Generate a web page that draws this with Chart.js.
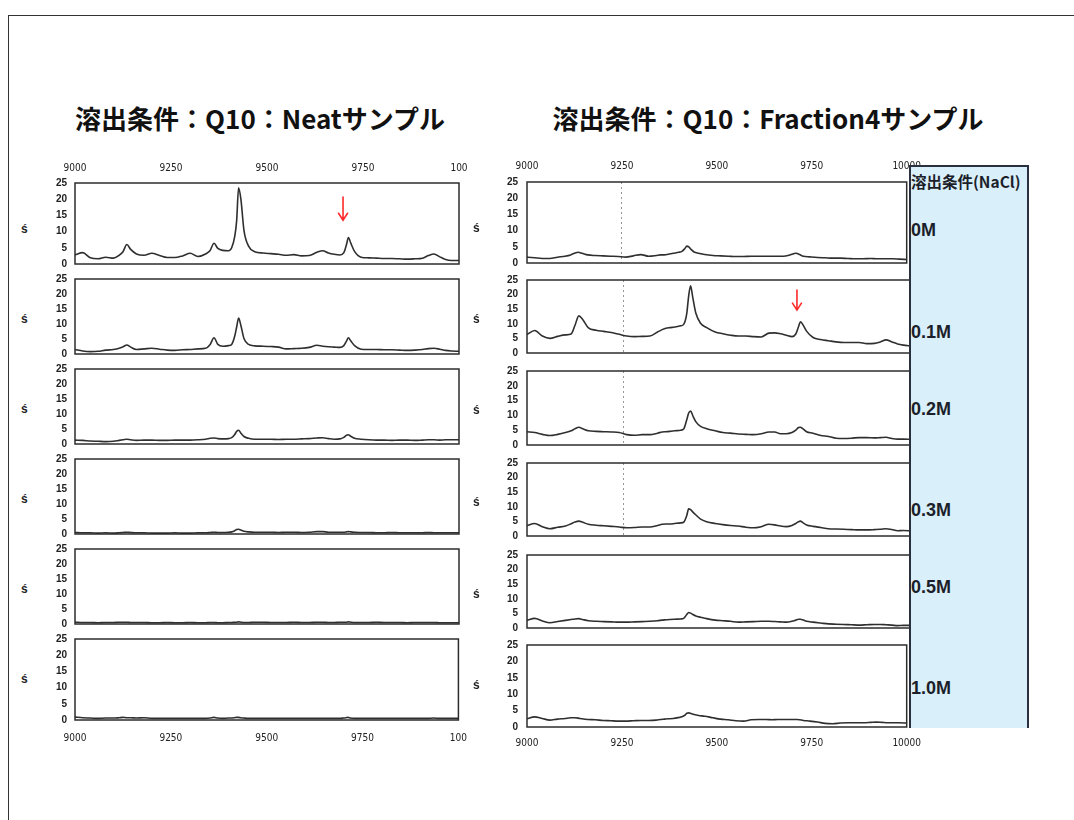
<!DOCTYPE html>
<html lang="ja">
<head>
<meta charset="utf-8">
<title>溶出条件 Q10</title>
<script src="https://cdn.jsdelivr.net/npm/chart.js@4.4.1/dist/chart.umd.min.js"></script>
<style>
  html, body { margin: 0; padding: 0; background: #fff; }
  #page { position: relative; width: 1074px; height: 820px; overflow: hidden; background: #fff;
          font-family: "Liberation Sans", Arial, sans-serif; }
  .frame { position: absolute; left: 8px; top: 15px; width: 1080px; height: 820px;
           border-left: 1.5px solid #333; border-top: 1.5px solid #333; }
  .title { position: absolute; top: 103px; height: 30px; line-height: 30px; white-space: nowrap;
           font-family: "Noto Sans CJK JP", sans-serif; font-weight: 700; font-size: 26px; color: #111;
           transform: translateX(-50%); }
  canvas { position: absolute; z-index: 2; }
  .axisname { position: absolute; font: bold 12px "Liberation Sans", Arial, sans-serif; color: #222;
              line-height: 12px; z-index: 3; }
  #saltBox { position: absolute; left: 909px; top: 165px; width: 116px; height: 561px; z-index: 5;
             background: #d9eff9; border-left: 2px solid #2b3040; border-top: 2px solid #2b3040;
             border-right: 2px solid #2b3040; }
  .saltHead { position: absolute; left: 911px; top: 171px; z-index: 6; white-space: nowrap;
              font-family: "Noto Sans CJK JP", sans-serif; font-weight: 700; font-size: 15.5px; color: #1c1f2a;
              line-height: 20px; letter-spacing: 0px; }
  .salt { position: absolute; left: 911px; z-index: 6; font: bold 18px "Liberation Sans", Arial, sans-serif;
          color: #1c1f2a; line-height: 20px; }
</style>
</head>
<body>
<div id="page">
  <div class="frame"></div>
  <div class="title" style="left:260px">溶出条件：Q10：Neatサンプル</div>
  <div class="title" style="left:768px">溶出条件：Q10：Fraction4サンプル</div>
</div>
<script>
// ---- spectra: m/z grid shared by every trace ----
const masses = [9000,9020,9040,9060,9080,9100,9115,9125,9135,9145,9160,9180,9200,9220,9240,9260,9280,9300,9320,9340,
  9352,9362,9372,9385,9400,9408,9416,9421,9426,9432,9440,9452,9468,9490,9510,9530,9550,9570,9590,9610,9630,
  9645,9660,9675,9690,9700,9707,9712,9718,9728,9745,9765,9785,9805,9825,9845,9865,9885,9905,9920,9935,9950,9965,9980,10000];

// Neat sample, intensity per NaCl elution step
const neat_0M   = [2.8,3.5,1.9,1.6,2.1,1.8,2.7,3.8,6.0,4.5,3.1,2.7,3.3,2.6,2.0,2.0,2.5,3.3,2.3,3.1,4.2,6.4,4.8,4.2,4.1,5.0,8.5,13.4,23.5,20.0,10.4,5.5,3.8,3.4,3.2,3.0,2.7,2.9,2.5,2.6,3.6,4.1,3.4,3.0,2.8,3.5,6.0,8.2,6.5,3.9,2.1,1.9,1.8,1.7,1.7,1.6,1.5,1.6,1.8,2.6,3.1,2.2,1.4,1.1,1.1];
const neat_0_1M = [1.5,1.0,0.8,0.9,1.3,1.5,1.9,2.4,3.0,2.3,1.5,1.7,1.9,1.6,1.3,1.2,1.4,1.5,1.7,1.9,3.2,5.4,3.2,2.6,2.8,3.2,6.0,9.0,12.0,9.5,5.2,3.2,2.7,2.6,2.5,2.3,1.7,1.8,1.9,2.2,2.9,2.6,2.4,2.3,2.2,2.8,4.3,5.4,4.4,2.8,1.6,1.5,1.5,1.4,1.4,1.3,1.2,1.3,1.5,1.8,1.9,1.6,1.2,1.0,0.9];
const neat_0_2M = [1.3,1.2,1.0,0.9,0.8,0.9,1.2,1.4,1.6,1.4,1.2,1.3,1.3,1.2,1.2,1.3,1.3,1.3,1.4,1.6,1.9,2.0,1.8,1.7,1.8,2.1,3.2,4.2,4.6,3.6,2.5,1.9,1.6,1.6,1.6,1.5,1.6,1.6,1.7,1.8,2.0,2.1,1.8,1.6,1.7,2.2,2.9,3.1,2.6,1.9,1.6,1.4,1.3,1.3,1.2,1.3,1.3,1.2,1.3,1.4,1.4,1.3,1.4,1.4,1.4];
const neat_0_3M = [0.5,0.4,0.4,0.3,0.4,0.3,0.4,0.5,0.6,0.5,0.4,0.4,0.3,0.3,0.3,0.4,0.3,0.3,0.4,0.4,0.5,0.6,0.5,0.5,0.6,0.7,1.1,1.5,1.6,1.3,0.9,0.7,0.6,0.6,0.6,0.5,0.6,0.6,0.5,0.6,0.8,0.8,0.6,0.6,0.6,0.6,0.7,0.8,0.7,0.6,0.5,0.5,0.4,0.4,0.5,0.4,0.4,0.4,0.4,0.5,0.4,0.4,0.4,0.4,0.4];
const neat_0_5M = [0.6,0.5,0.5,0.4,0.5,0.5,0.6,0.6,0.6,0.5,0.5,0.5,0.4,0.4,0.5,0.4,0.4,0.5,0.4,0.4,0.5,0.5,0.4,0.4,0.5,0.5,0.6,0.6,0.7,0.6,0.5,0.5,0.6,0.6,0.5,0.5,0.5,0.6,0.5,0.5,0.6,0.6,0.5,0.5,0.6,0.6,0.6,0.7,0.6,0.5,0.5,0.5,0.6,0.5,0.5,0.5,0.4,0.5,0.5,0.5,0.5,0.4,0.4,0.4,0.4];
const neat_1_0M = [0.9,0.7,0.6,0.5,0.6,0.6,0.7,0.8,0.7,0.7,0.6,0.7,0.5,0.5,0.5,0.5,0.5,0.5,0.5,0.5,0.6,0.8,0.6,0.5,0.6,0.6,0.7,0.8,0.8,0.7,0.6,0.5,0.5,0.5,0.5,0.5,0.5,0.5,0.5,0.5,0.5,0.5,0.5,0.5,0.5,0.6,0.7,0.8,0.6,0.5,0.5,0.5,0.5,0.5,0.5,0.5,0.5,0.5,0.5,0.5,0.6,0.5,0.5,0.5,0.5];

// Fraction4 sample, intensity per NaCl elution step
const frac4_0M   = [1.8,1.6,1.4,1.4,1.8,2.1,2.5,3.0,3.3,3.0,2.5,2.3,2.2,2.1,2.0,1.8,2.2,2.6,2.1,2.3,2.5,2.5,2.7,3.0,3.3,3.6,4.5,5.2,5.0,4.2,3.4,3.0,2.6,2.3,2.2,2.1,2.0,2.0,2.1,2.1,2.1,2.1,2.1,2.1,2.4,2.8,3.0,2.9,2.6,2.1,1.9,1.7,1.6,1.5,1.5,1.4,1.3,1.3,1.4,1.3,1.3,1.3,1.3,1.2,1.1];
const frac4_0_1M = [6.3,7.7,5.8,5.0,5.7,6.2,6.5,9.5,12.7,11.5,8.6,7.8,7.4,7.0,6.4,5.8,5.6,5.7,5.8,7.2,8.0,8.5,8.7,8.9,9.3,9.8,13.5,19.5,23.0,18.8,13.5,10.2,8.7,7.2,6.6,6.1,5.8,5.8,5.6,5.5,6.8,6.9,6.6,6.1,5.6,6.5,9.0,10.7,9.8,7.5,5.3,4.6,4.2,3.8,3.6,3.6,3.6,3.2,3.3,3.8,4.5,3.8,3.1,2.7,2.4];
const frac4_0_2M = [4.5,4.2,3.6,3.2,3.6,4.2,4.8,5.5,6.0,5.5,4.8,4.6,4.5,4.4,4.2,3.5,3.3,3.5,3.5,4.0,4.4,4.5,4.6,4.8,5.0,5.4,8.5,10.8,11.5,9.8,7.8,6.3,5.5,4.8,4.2,4.0,3.7,3.6,3.5,3.8,4.4,4.4,3.8,3.8,4.2,5.0,5.9,6.0,5.5,4.5,4.0,3.2,2.9,2.3,2.2,2.3,2.5,2.5,2.4,2.5,2.6,2.2,2.0,2.0,1.9];
const frac4_0_3M = [3.5,4.3,3.2,2.5,3.0,3.4,4.2,4.8,5.1,4.7,4.0,3.7,3.5,3.3,3.1,2.8,2.9,3.1,3.1,3.6,4.0,4.1,4.1,4.3,4.5,4.7,7.0,9.3,9.0,8.2,7.2,5.8,4.9,4.3,3.9,3.6,3.4,3.0,2.8,3.2,4.0,3.8,3.4,3.2,3.6,4.3,4.9,5.1,4.6,3.8,3.3,2.9,2.5,2.4,2.3,2.2,2.1,2.1,2.2,2.3,2.5,2.2,1.8,1.9,1.7];
const frac4_0_5M = [2.6,3.3,2.4,1.8,2.2,2.6,2.9,3.1,3.2,2.9,2.5,2.3,2.2,2.1,2.0,2.0,2.1,2.2,2.3,2.5,2.7,2.8,2.9,3.0,3.1,3.3,4.6,5.3,5.1,4.6,4.1,3.7,3.2,2.7,2.5,2.3,2.0,2.1,2.2,2.3,2.3,2.2,2.1,2.0,2.3,2.7,3.0,3.0,2.8,2.3,2.0,1.7,1.4,1.3,1.2,1.1,1.0,1.1,1.2,1.2,1.1,1.0,0.8,0.9,0.9];
const frac4_1_0M = [2.5,3.1,2.6,2.1,2.4,2.6,2.8,2.8,2.7,2.5,2.3,2.2,2.0,1.9,1.8,1.8,1.9,2.0,2.0,2.1,2.3,2.4,2.5,2.6,2.9,3.1,3.6,4.2,4.3,4.1,3.8,3.5,3.3,2.8,2.4,2.2,1.9,1.8,2.2,2.3,2.3,2.2,2.3,2.3,2.3,2.3,2.3,2.3,2.2,2.0,1.8,1.5,1.1,1.0,1.2,1.3,1.3,1.3,1.4,1.5,1.4,1.3,1.3,1.3,1.2];

// ---- axis ticks and labels ----
const saltLevels    = ['0M', '0.1M', '0.2M', '0.3M', '0.5M', '1.0M'];
const saltHeader    = '溶出条件(NaCl)';
const xTickValues   = [9000, 9250, 9500, 9750, 10000];
const neatTickText  = ['9000', '9250', '9500', '9750', '100'];
const frac4TickText = ['9000', '9250', '9500', '9750', '10000'];
const yMin = 0, yMax = 25, yStep = 5;
const axisName = 'ś';

// ---- red arrows marking the 9.7k peak ----
const arrowColumn = ['neat', 'frac4'];
const arrowPanel  = [0, 1];
const arrowMass   = [9698, 9703];
const arrowFrom   = [20.7, 21.6];
const arrowTo     = [13.5, 14.7];

// ---- page layout (pixels) ----
const columns = [
  { key: 'neat',  series: [neat_0M, neat_0_1M, neat_0_2M, neat_0_3M, neat_0_5M, neat_1_0M],
    tickText: neatTickText, plotLeft: 75, plotRight: 459,
    tops: [183, 273, 363, 453, 543, 633], bottoms: [270, 360, 450, 540, 630, 720],
    topPad: 9, bottomPad: 12, yPad: 8, dashPanels: 0, nameX: 21 },
  { key: 'frac4', series: [frac4_0M, frac4_0_1M, frac4_0_2M, frac4_0_3M, frac4_0_5M, frac4_1_0M],
    tickText: frac4TickText, plotLeft: 527, plotRight: 911,
    tops: [182, 273, 364, 456, 548, 638], bottoms: [270, 360, 452, 543, 635, 727],
    topPad: 10, bottomPad: 10, yPad: 9, dashPanels: 4, nameX: 473 }
];
const saltLabelY = [230, 332, 409, 510, 587, 688];

Chart.defaults.font.family = '"Liberation Sans", Arial, sans-serif';

// Dark frame around each panel's plot area
const panelFrame = {
  id: 'panelFrame',
  afterDatasetsDraw(chart) {
    const { ctx, chartArea: a } = chart;
    ctx.save();
    ctx.strokeStyle = '#2d2d2d';
    ctx.lineWidth = 1.5;
    ctx.strokeRect(a.left, a.top, a.right - a.left, a.bottom - a.top);
    ctx.restore();
  }
};

// Downward red arrows placed with the chart's own scales
const redArrows = {
  id: 'redArrows',
  afterDatasetsDraw(chart, args, opts) {
    const marks = opts.marks || [];
    if (!marks.length) return;
    const { ctx, scales: { x, y } } = chart;
    ctx.save();
    ctx.strokeStyle = '#ff2a2a';
    ctx.lineWidth = 1.6;
    ctx.lineCap = 'round';
    marks.forEach(m => {
      const px = x.getPixelForValue(m.mass);
      const y1 = y.getPixelForValue(m.from);
      const y2 = y.getPixelForValue(m.to);
      ctx.beginPath();
      ctx.moveTo(px, y1); ctx.lineTo(px, y2);
      ctx.moveTo(px - 4.5, y2 - 7); ctx.lineTo(px, y2); ctx.lineTo(px + 4.5, y2 - 7);
      ctx.stroke();
    });
    ctx.restore();
  }
};

const page = document.getElementById('page');
const AXIS_H = 30, PAD = 8, EDGE = 4, Y_W = 45, RIGHT_PAD = 20;

columns.forEach(col => {
  col.series.forEach((values, i) => {
    const first = i === 0, last = i === col.series.length - 1;
    const top = col.tops[i], bottom = col.bottoms[i];
    const padTop = first ? EDGE : PAD;
    const padBottom = last ? EDGE : PAD;
    const cv = document.createElement('canvas');
    cv.width = Y_W + (col.plotRight - col.plotLeft) + RIGHT_PAD;
    cv.height = (bottom - top) + padTop + padBottom + (first || last ? AXIS_H : 0);
    cv.style.left = (col.plotLeft - Y_W) + 'px';
    cv.style.top = (top - padTop - (first ? AXIS_H : 0)) + 'px';
    page.appendChild(cv);

    const marks = [];
    arrowMass.forEach((m, k) => {
      if (arrowColumn[k] === col.key && arrowPanel[k] === i) {
        marks.push({ mass: m, from: arrowFrom[k], to: arrowTo[k] });
      }
    });
    const dashed = i < col.dashPanels;

    new Chart(cv, {
      type: 'line',
      data: {
        datasets: [{
          data: masses.map((m, k) => ({ x: m, y: values[k] })),
          borderColor: '#2f2f2f',
          borderWidth: 1.6,
          pointRadius: 0,
          cubicInterpolationMode: 'monotone',
          fill: false
        }]
      },
      options: {
        responsive: false,
        animation: false,
        devicePixelRatio: 1,
        events: [],
        layout: { padding: { top: padTop, bottom: padBottom, left: 0, right: RIGHT_PAD } },
        plugins: { legend: { display: false }, tooltip: { enabled: false }, redArrows: { marks } },
        scales: {
          x: {
            type: 'linear', min: 9000, max: 10000,
            position: first ? 'top' : 'bottom',
            afterBuildTicks: s => { s.ticks = xTickValues.map(v => ({ value: v })); },
            afterFit: s => { s.height = (first || last) ? AXIS_H : 0; },
            ticks: {
              display: first || last,
              autoSkip: false, maxRotation: 0, minRotation: 0,
              padding: first ? col.topPad : col.bottomPad,
              color: '#222',
              font: { family: '"Liberation Sans Narrow", "DejaVu Sans Condensed", sans-serif', size: 10 },
              callback: (v, idx) => col.tickText[idx]
            },
            grid: {
              display: dashed, drawTicks: false, lineWidth: 1,
              color: ctx => (ctx.tick && ctx.tick.value === 9250) ? 'rgba(80,80,80,0.6)' : 'rgba(0,0,0,0)'
            },
            border: { display: false, dash: [2, 3] }
          },
          y: {
            min: yMin, max: yMax,
            afterFit: s => { s.width = Y_W; },
            ticks: {
              stepSize: yStep, padding: col.yPad, color: '#222',
              font: { size: 10, weight: 'bold' }
            },
            grid: { display: false, drawTicks: false },
            border: { display: false }
          }
        }
      },
      plugins: [panelFrame, redArrows]
    });

    const nm = document.createElement('div');
    nm.className = 'axisname';
    nm.textContent = axisName;
    nm.style.left = col.nameX + 'px';
    nm.style.top = ((top + bottom) / 2 - 4) + 'px';
    page.appendChild(nm);
  });
});

// NaCl elution legend column
const box = document.createElement('div');
box.id = 'saltBox';
page.appendChild(box);
const head = document.createElement('div');
head.className = 'saltHead';
head.textContent = saltHeader;
page.appendChild(head);
saltLevels.forEach((s, i) => {
  const d = document.createElement('div');
  d.className = 'salt';
  d.textContent = s;
  d.style.top = (saltLabelY[i] - 10) + 'px';
  page.appendChild(d);
});
</script>
</body>
</html>
